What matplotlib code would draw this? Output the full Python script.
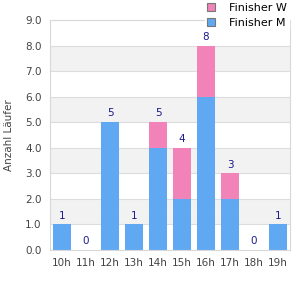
import matplotlib
matplotlib.use("Agg")
import matplotlib.pyplot as plt
from matplotlib.patches import Patch

hours = ["10h", "11h", "12h", "13h", "14h", "15h", "16h", "17h", "18h", "19h"]
finisher_m = [1, 0, 5, 1, 4, 2, 6, 2, 0, 1]
finisher_w = [0, 0, 0, 0, 1, 2, 2, 1, 0, 0]

c_m = "#60a8f2"
c_w = "#f283b9"

fig = plt.figure(figsize=(3, 3), dpi=100)
ax = fig.add_axes([50/300, 50/300, 240/300, 230/300])

x = list(range(len(hours)))
ax.set_xlim(-0.5, len(hours) - 0.5)
ax.set_ylim(0, 9)
for lo in [1, 3, 5, 7]:
    ax.axhspan(lo, lo + 1, color="#f2f2f2", zorder=0, lw=0)
for y in range(1, 10):
    ax.axhline(y, color="#dddddd", lw=0.8, zorder=0.5)

ax.bar(x, finisher_m, width=0.75, color=c_m, zorder=2)
ax.bar(x, finisher_w, width=0.75, bottom=finisher_m, color=c_w, zorder=2)
for i in x:
    tot = finisher_m[i] + finisher_w[i]
    ax.text(i, tot + 0.15, str(tot), ha="center", va="bottom", fontsize=7.5, color="#1a1a8a", zorder=3)

ax.set_xticks(x)
ax.set_xticklabels(hours)
ax.set_yticks(range(10))
ax.set_yticklabels([f"{v:.1f}" for v in range(10)])
ax.tick_params(axis="both", length=0, labelsize=7.5, colors="#444444")
ax.tick_params(axis="x", pad=6)
ax.tick_params(axis="y", pad=6)
for s in ax.spines.values():
    s.set_color("#d8d8d8")
ax.set_ylabel("Anzahl Läufer", fontsize=7.5, color="#444444", labelpad=8)

handles = [Patch(facecolor=c_w, edgecolor="#777777", lw=0.8, label="Finisher W"),
           Patch(facecolor=c_m, edgecolor="#777777", lw=0.8, label="Finisher M")]
leg = fig.legend(handles=handles, loc="upper right", bbox_to_anchor=(0.975, 1.012),
                 fontsize=8, frameon=True, handlelength=0.7, handleheight=0.7,
                 labelspacing=0.45, borderpad=0.25, handletextpad=1.2, borderaxespad=0.3)
leg.get_frame().set_edgecolor("white")
leg.get_frame().set_facecolor("white")
leg.get_frame().set_alpha(1)
leg.set_zorder(10)

fig.savefig("out.png", dpi=100)
